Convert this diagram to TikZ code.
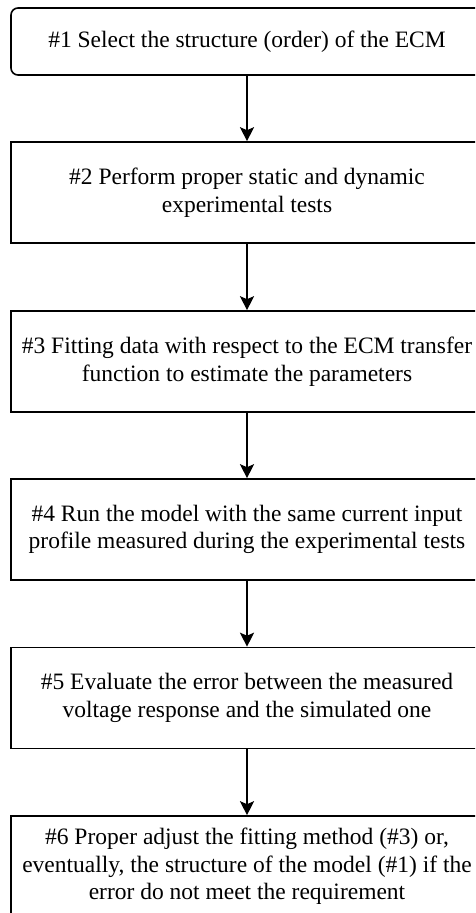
\documentclass[tikz,border=0pt]{standalone}
\usepackage{fontspec}
\setmainfont{Liberation Serif}
\usetikzlibrary{arrows.meta}
\begin{document}
\begin{tikzpicture}[x=1pt,y=-1pt,
  stepbox/.style={draw=black, line width=1.6pt, minimum width=472pt,
    minimum height=101pt, align=center, inner sep=0pt,
    font=\fontsize{23.5}{27.7}\selectfont},
  flow/.style={draw=black, line width=1.6pt,
    -{Stealth[length=14pt,width=14pt,inset=3pt]}}]
\useasboundingbox (0,0) rectangle (475,913);
\clip (0,0) rectangle (475,913);
\node[stepbox, rounded corners=7pt, minimum height=67pt] (s1) at (247,41.5)
  {\#1 Select the structure (order) of the ECM};
\node[stepbox] (s2) at (247,192.5)
  {\#2 Perform proper static and dynamic\\experimental tests};
\node[stepbox] (s3) at (247,361.5)
  {\#3 Fitting data with respect to the ECM transfer\\function to estimate the parameters};
\node[stepbox] (s4) at (247,529.5)
  {\#4 Run the model with the same current input\\profile measured during the experimental tests};
\node[stepbox] (s5) at (247,698)
  {\#5 Evaluate the error between the measured\\voltage response and the simulated one};
\node[stepbox] (s6) at (247,866.5)
  {\#6 Proper adjust the fitting method (\#3) or,\\eventually, the structure of the model (\#1) if the\\error do not meet the requirement};
\draw[flow] (s1.south) -- (s2.north);
\draw[flow] (s2.south) -- (s3.north);
\draw[flow] (s3.south) -- (s4.north);
\draw[flow] (s4.south) -- (s5.north);
\draw[flow] (s5.south) -- (s6.north);
\end{tikzpicture}
\end{document}
